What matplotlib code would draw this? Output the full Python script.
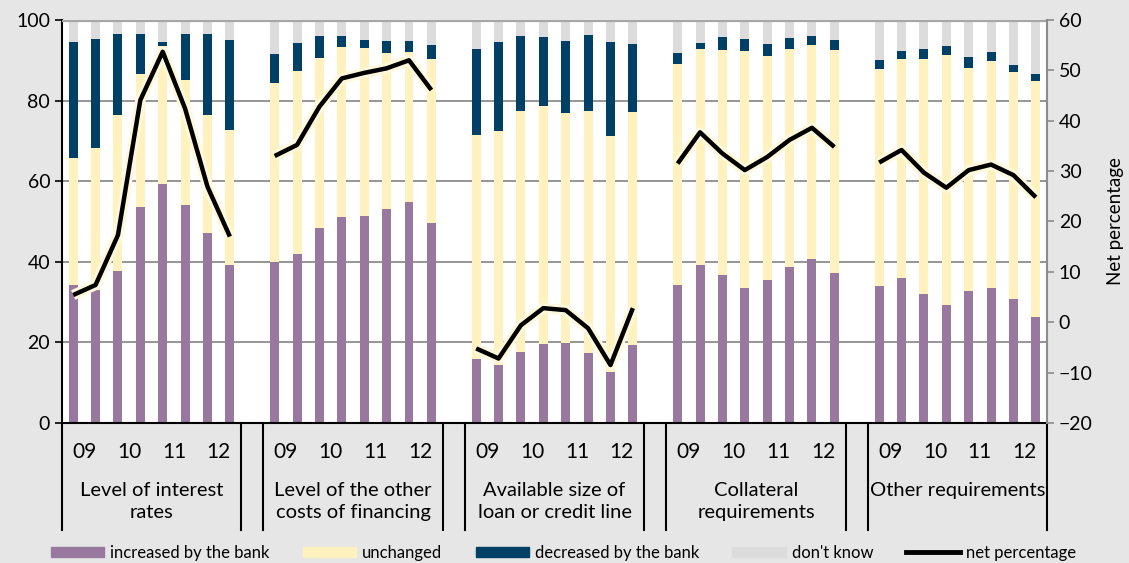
import numpy as np
import matplotlib
matplotlib.use('Agg')
import matplotlib.pyplot as plt
import matplotlib.patheffects as pe
import matplotlib.transforms as mtransforms
from matplotlib.lines import Line2D
from matplotlib.patches import Patch

plt.rcParams['font.family'] = ['Lato', 'DejaVu Sans']

groups = ['Level of interest\nrates', 'Level of the other\ncosts of financing',
          'Available size of\nloan or credit line', 'Collateral\nrequirements',
          'Other requirements']
years = ['09', '10', '11', '12']

# 8 half-year observations per group, groups in order above
increased = [34.2, 33.0, 37.6, 53.6, 59.4, 54.0, 47.2, 39.2,
             40.0, 41.9, 48.3, 51.1, 51.4, 53.2, 54.8, 49.7,
             16.0, 14.4, 17.7, 19.5, 19.9, 17.4, 12.7, 19.3,
             34.2, 39.1, 36.6, 33.4, 35.6, 38.7, 40.7, 37.2,
             34.1, 36.1, 32.1, 29.3, 32.7, 33.4, 30.8, 26.4]
unchanged = [31.5, 35.3, 38.7, 33.1, 34.1, 31.0, 29.1, 33.6,
             44.3, 45.4, 42.3, 42.1, 41.6, 38.7, 37.3, 40.5,
             55.4, 58.1, 59.7, 59.2, 57.1, 60.1, 58.4, 57.8,
             54.9, 53.7, 56.0, 58.9, 55.5, 54.2, 53.2, 55.3,
             53.7, 54.3, 58.1, 62.0, 55.5, 56.4, 56.3, 58.5]
decreased = [28.8, 27.0, 20.1, 9.7, 1.1, 11.4, 20.1, 22.2,
             7.2, 6.9, 5.5, 2.9, 2.0, 2.9, 2.7, 3.6,
             21.5, 22.1, 18.6, 17.2, 17.8, 18.7, 23.4, 16.9,
             2.8, 1.6, 3.2, 3.1, 2.9, 2.7, 2.2, 2.5,
             2.3, 1.9, 2.7, 2.3, 2.5, 2.2, 1.7, 1.8]
dont_know = [5.5, 4.7, 3.6, 3.6, 5.4, 3.6, 3.6, 5.0,
             8.5, 5.8, 3.9, 3.9, 5.0, 5.2, 5.2, 6.2,
             7.1, 5.4, 4.0, 4.1, 5.2, 3.8, 5.5, 6.0,
             8.1, 5.6, 4.2, 4.6, 6.0, 4.4, 3.9, 5.0,
             9.9, 7.7, 7.1, 6.4, 9.3, 8.0, 11.2, 13.3]
net = [5.4, 7.4, 17.3, 44.1, 53.7, 42.4, 26.9, 17.0,
       33.0, 35.2, 42.8, 48.4, 49.5, 50.4, 52.0, 46.1,
       -5.2, -7.2, -0.6, 2.8, 2.4, -1.2, -8.5, 2.8,
       31.5, 37.7, 33.5, 30.2, 32.8, 36.2, 38.6, 34.8,
       31.7, 34.2, 29.7, 26.7, 30.2, 31.3, 29.2, 24.8]

c_inc = '#98789e'
c_unch = '#fff2bf'
c_dec = '#003f66'
c_dk = '#dcdcdc'
bg = '#e6e6e6'

n_grp = len(groups)
per = 8
x = np.array([g * (per + 1) + i for g in range(n_grp) for i in range(per)])
inc = np.array(increased)
unch = np.array(unchanged)
dec = np.array(decreased)
dk = np.array(dont_know)

fig = plt.figure(figsize=(11.29, 5.63), dpi=100, facecolor=bg)
ax = fig.add_axes([0.0549, 0.2487, 0.8725, 0.7158])
ax.set_facecolor('white')

w = 0.4
ax.bar(x, inc, w, color=c_inc)
ax.bar(x, unch, w, bottom=inc, color=c_unch)
ax.bar(x, dec, w, bottom=inc + unch, color=c_dec)
ax.bar(x, dk, w, bottom=inc + unch + dec, color=c_dk)

ax.set_xlim(-0.5, n_grp * (per + 1) - 1.5)
ax.set_ylim(0, 100)
ax.set_yticks(range(0, 101, 20))
ax.set_axisbelow(True)
ax.yaxis.grid(True, color='#8c8c8c', lw=1.3)
ax.set_xticks([])
ax.tick_params(axis='y', labelsize=14, length=5, width=1.2, direction='out')
for s in ['top', 'right']:
    ax.spines[s].set_visible(False)
ax.spines['left'].set_linewidth(1.5)
ax.spines['bottom'].set_linewidth(1.5)

ax2 = ax.twinx()
ax2.set_ylim(-20, 60)
ax2.set_yticks(range(-20, 61, 10))
ax2.tick_params(axis='y', labelsize=14, length=5, width=1.2, color='#8c8c8c')
for s in ['top', 'left', 'bottom']:
    ax2.spines[s].set_visible(False)
ax2.spines['right'].set_color('#8c8c8c')
ax2.spines['right'].set_linewidth(1.5)
ax2.set_ylabel('Net percentage', fontsize=13.5, labelpad=10)

halo = [pe.Stroke(linewidth=7.5, foreground='#fff8dc'), pe.Normal()]
for g in range(n_grp):
    sl = slice(g * per, (g + 1) * per)
    ax2.plot(x[sl], net[sl], color='black', lw=3.2, solid_capstyle='butt',
             path_effects=halo, zorder=5)

# top border line
ax.axhline(100, color='#a6a6a6', lw=3, zorder=3)

# category axis labels and separators
trans = mtransforms.blended_transform_factory(ax.transData, ax.transAxes)
for g in range(n_grp):
    start = g * (per + 1)
    for k, yr in enumerate(years):
        ax.text(start + 2 * k + 0.5, -0.072, yr, transform=trans, ha='center',
                va='center', fontsize=15)
    ax.text(start + 3.5, -0.147, groups[g], transform=trans, ha='center',
            va='top', fontsize=14.5, linespacing=1.32)
    for b in (start - 0.5, start + per - 0.5):
        ax.plot([b, b], [0, -0.265], transform=trans, color='black', lw=1.5,
                clip_on=False)

handles = [Patch(color=c_inc), Patch(color=c_unch), Patch(color=c_dec),
           Patch(color=c_dk), Line2D([], [], color='black', lw=3.5)]
labels = ['increased by the bank', 'unchanged', 'decreased by the bank',
          "don't know", 'net percentage']
fig.legend(handles, labels, loc='center', bbox_to_anchor=(0.499, 0.018), ncol=5,
           frameon=False, fontsize=12, handlelength=3.2, handleheight=0.55,
           handletextpad=0.35, columnspacing=2.0)

fig.savefig('out.png', dpi=100, facecolor=bg)
